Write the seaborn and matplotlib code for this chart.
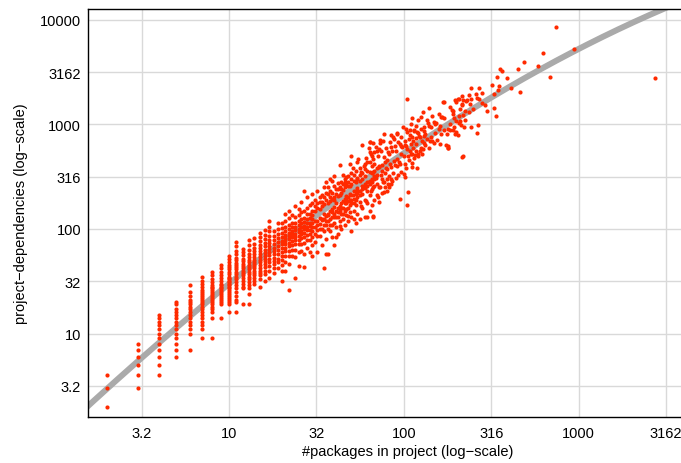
import numpy as np
import pandas as pd
import matplotlib
matplotlib.use("Agg")
import matplotlib.pyplot as plt
import seaborn as sns
from matplotlib.ticker import FixedLocator, NullLocator

# ---- data: dependencies observed for each project size -------------------
packages = [
    2, 3, 4, 5, 6, 7, 8, 9, 10, 11, 12, 13, 14, 15, 16, 17, 18, 19, 20,
    21, 22, 23, 24, 25, 26, 27, 28, 29, 30,
    31, 32, 33, 34, 35, 36, 37, 38, 39, 40, 41, 42, 43, 44, 45, 46, 47, 48,
    49, 50, 51, 52, 53, 54, 55, 56, 57, 58, 59, 60, 61, 62, 63, 64, 65, 66,
    67, 68, 69, 70, 71, 72, 73, 74, 75, 76, 77, 78, 79, 80, 81, 82, 83, 84,
    85, 86, 87, 88, 89, 90, 91, 92, 93, 94, 95, 96, 97, 98, 99,
    100, 102, 104, 105, 106, 108, 109, 111, 114, 116, 119, 120, 122, 124,
    129, 130, 133, 137, 139, 140, 142, 148, 153, 155, 158, 160, 162, 164,
    165, 168, 169, 175, 177, 178, 180, 183, 188, 191, 196, 197, 199, 200,
    203, 206, 209, 210, 213, 214, 215, 216, 218, 219, 222, 228, 230, 240,
    242, 243, 260, 262, 267, 271, 291, 319, 327, 330, 339, 341, 344, 351,
    357, 366, 390, 413, 453, 461, 484, 588, 624, 687, 746, 942, 2750,
    101, 103, 107, 110, 112, 113, 115, 117, 118, 121, 125, 127, 131, 135,
    143, 145, 150, 170, 185, 193, 225, 235, 250, 280, 300,
]

dependencies = [
    [2, 3, 4],
    [3, 4, 5, 6, 7, 8],
    [4, 5, 6, 7, 8, 9, 10, 11, 12, 13, 14, 15],
    [6, 7, 8, 9, 10, 11, 12, 13, 14, 15, 16, 17, 19, 20],
    [7, 10, 11, 12, 13, 14, 15, 16, 17, 18, 19, 20, 21, 23, 25, 29],
    [9, 11, 12, 13, 14, 15, 16, 17, 18, 19, 20, 21, 22, 23, 24, 25, 26, 28,
     30, 32, 35],
    [9, 14, 16, 17, 18, 19, 20, 21, 22, 23, 24, 25, 26, 27, 28, 29, 31, 33,
     36, 39],
    [14, 19, 20, 21, 22, 23, 24, 25, 26, 27, 28, 29, 30, 32, 34, 36, 39, 42,
     45],
    [16, 19, 20, 21, 22, 23, 24, 25, 26, 27, 28, 29, 30, 31, 32, 33, 34, 35,
     37, 39, 41, 43, 45, 48, 52, 55],
    [16, 20, 21, 23, 25, 27, 29, 31, 33, 35, 37, 39, 41, 43, 45, 47, 50, 53,
     57, 62, 68, 75],
    [19, 27, 28, 30, 32, 34, 36, 38, 40, 42, 44, 46, 49, 52, 56, 60, 64],
    [19, 24, 27, 29, 31, 33, 35, 37, 39, 41, 43, 45, 48, 51, 54, 58, 63, 70,
     78],
    [30, 32, 34, 36, 38, 40, 42, 44, 46, 48, 51, 54, 57, 61, 66, 72, 81],
    [28, 33, 36, 38, 40, 42, 45, 48, 51, 54, 57, 61, 65, 70, 76, 84, 92],
    [32, 37, 40, 43, 46, 49, 52, 55, 59, 63, 68, 74, 80, 88, 97],
    [34, 40, 44, 48, 52, 56, 60, 64, 68, 73, 79, 86, 95, 105, 119],
    [38, 42, 46, 49, 53, 57, 61, 66, 72, 78, 85, 95],
    [42, 48, 52, 58, 63, 69, 75, 82, 90, 100, 115],
    [32, 40, 45, 50, 55, 60, 65, 71, 77, 84, 92, 102, 115],
    [40, 48, 55, 61, 66, 71, 76, 82, 88, 95, 105, 120, 140],
    [26, 46, 55, 62, 68, 74, 80, 86, 92, 100, 110, 128, 150],
    [55, 63, 70, 77, 83, 89, 96, 104, 115, 135],
    [34, 54, 63, 71, 78, 84, 90, 97, 105, 115, 130, 165],
    [44, 60, 71, 79, 86, 93, 100, 108, 118, 135, 155],
    [61, 72, 81, 89, 96, 104, 113, 125, 145, 180],
    [43, 58, 73, 83, 91, 99, 107, 116, 128, 150, 232],
    [65, 78, 88, 97, 105, 114, 124, 138, 160, 200],
    [60, 78, 89, 98, 106, 115, 126, 140, 170],
    [55, 70, 84, 95, 105, 114, 124, 135, 150, 175, 215],
    [75, 90, 105, 120, 150, 165, 190],
    [60, 85, 98, 110, 118, 160, 175, 232],
    [85, 100, 112, 128, 155, 180, 200],
    [70, 100, 122, 125, 165, 180, 210],
    [42, 95, 110, 125, 140, 172, 200, 250],
    [58, 80, 110, 120, 132, 190, 220, 279],
    [58, 100, 118, 135, 140, 178, 215, 250],
    [95, 110, 125, 150, 185, 200, 230, 300],
    [83, 110, 130, 145, 155, 195, 220, 289],
    [70, 115, 130, 140, 162, 190, 200, 260, 320],
    [83, 105, 130, 150, 175, 215, 240],
    [90, 130, 145, 160, 205, 240, 275],
    [107, 120, 150, 165, 210, 250, 408],
    [100, 140, 160, 175, 220, 240, 280],
    [125, 140, 160, 185, 235, 270, 330],
    [110, 150, 175, 195, 250, 280, 300],
    [135, 155, 175, 190, 205, 265, 311],
    [134, 120, 160, 185, 200, 255, 280, 320],
    [145, 170, 190, 215, 260, 418],
    [95, 130, 175, 190, 210, 270, 300, 340, 501],
    [210, 380],
    [124, 150, 175, 195, 230, 290, 330],
    [115, 170, 190, 215, 230, 280, 360],
    [140, 200, 220, 245, 300, 310, 434],
    [230, 470],
    [125, 180, 210, 230, 290, 330, 380],
    [165, 350],
    [160, 215, 240, 260, 300, 340, 634],
    [260, 400],
    [130, 190, 245, 270, 320, 370, 420],
    [185, 480],
    [129, 175, 230, 255, 280, 360, 440],
    [280, 600],
    [150, 210, 270, 290, 350, 434, 540, 673, 683],
    [230, 520],
    [170, 240, 280, 300, 345, 400, 500],
    [129, 134, 250, 348, 466, 662],
    [190, 260, 300, 320, 360, 420, 540],
    [310, 610],
    [210, 269, 330, 380, 560],
    [200, 500],
    [180, 250, 388, 402, 581],
    [250, 662, 708],
    [330, 560],
    [220, 300, 360, 410],
    [280, 700],
    [224, 280, 484, 807],
    [250, 340, 440],
    [380, 600],
    [230, 300, 374, 460],
    [270, 540],
    [250, 323, 520],
    [420, 680],
    [300, 390, 794],
    [270, 603],
    [290, 560],
    [340, 751],
    [450, 720],
    [410, 625],
    [310, 560],
    [402, 807],
    [470, 830],
    [330, 680],
    [440],
    [193, 417, 649],
    [520, 750],
    [350, 620],
    [603],
    [936],
    [335, 501],
    [311, 634],
    [170, 849, 1730],
    [581],
    [224, 494],
    [794],
    [560, 881],
    [388, 520, 1150],
    [870],
    [508],
    [379, 849],
    [494, 1110],
    [778],
    [560, 751],
    [581, 1300],
    [778, 936],
    [634, 807],
    [1020],
    [589, 969],
    [1430],
    [697],
    [662, 1060],
    [1035],
    [713],
    [901],
    [1250],
    [649, 957],
    [813, 1170],
    [1170],
    [1630],
    [1640],
    [634],
    [813],
    [616, 900],
    [589, 593],
    [883],
    [1370],
    [883, 1250, 1350],
    [1720],
    [813],
    [849],
    [1080, 1620],
    [790, 1750],
    [1030, 1210, 1750],
    [1390],
    [1082],
    [985],
    [1880],
    [484],
    [1530, 1570],
    [1227, 1710],
    [494],
    [942],
    [1683],
    [1720],
    [1570],
    [950],
    [1750, 2240],
    [1960],
    [826, 1790],
    [985],
    [1750, 2210],
    [1540],
    [2390],
    [1940],
    [1420],
    [1200],
    [2850],
    [2130],
    [2320],
    [3360],
    [3210],
    [2750],
    [2210],
    [3360],
    [2020],
    [3920],
    [3640],
    [4770],
    [2850],
    [8510],
    [5210],
    [2750],
    [420, 700],
    [380, 620, 900],
    [460, 720],
    [520, 650, 1000],
    [430, 760],
    [600, 690],
    [480, 880],
    [560, 740],
    [650, 960],
    [520, 820],
    [600, 900, 1180],
    [520, 700],
    [660, 860],
    [720, 1100],
    [760, 950],
    [690, 1200],
    [820, 1000],
    [880, 1150],
    [1000, 1450],
    [950, 1150],
    [1100, 1350],
    [1300, 1900],
    [1400],
    [1600, 2000],
    [1350],
]

# points along the fitted trend (packages, dependencies)
trend_packages = [1.591, 10, 19.54, 100, 160.7, 316.2, 1000, 2661]
trend_deps = [2.118, 27.9, 74.3, 558, 935, 1734, 4909, 11912]

tick_values = [10 ** 0.5, 10, 10 ** 1.5, 100, 10 ** 2.5, 1000, 10 ** 3.5, 10000]
tick_labels = ["3.2", "10", "32", "100", "316", "1000", "3162", "10000"]

# ---- tidy frame ----------------------------------------------------------
rows = [(p, d) for p, ds in zip(packages, dependencies) for d in ds]
df = pd.DataFrame(rows, columns=["packages", "dependencies"])

# smooth trend in log-log space
lx = np.log10(trend_packages)
ly = np.log10(trend_deps)
coef = np.polyfit(lx, ly, 3)
grid = np.linspace(0.1, 3.9, 300)
trend = pd.DataFrame({"packages": 10 ** grid,
                      "dependencies": 10 ** np.polyval(coef, grid)})

# ---- figure --------------------------------------------------------------
sns.set_theme(style="whitegrid")
plt.rcParams["font.family"] = ["Liberation Sans", "DejaVu Sans"]

W, H = 681, 464
fig = plt.figure(figsize=(W / 100, H / 100), dpi=100)
left, right, top, bottom = 88, 728, 10.3, 417.7
ax = fig.add_axes([left / W, (H - bottom) / H, (right - left) / W,
                   (bottom - top) / H])

sns.lineplot(data=trend, x="packages", y="dependencies", ax=ax,
             color="#aaaaaa", linewidth=4.3, estimator=None, sort=False,
             zorder=2)
sns.scatterplot(data=df, x="packages", y="dependencies", ax=ax,
                color="#ff2a00", s=9, linewidth=0, zorder=3)

ax.set_xscale("log")
ax.set_yscale("log")
ax.set_xlim(10 ** 0.194, 10 ** (1 + (right - 228.5) / 175))
ax.set_ylim(10 ** 0.205, 10 ** 4.0994)

ax.xaxis.set_major_locator(FixedLocator(tick_values[:-1]))
ax.xaxis.set_ticklabels(tick_labels[:-1])
ax.yaxis.set_major_locator(FixedLocator(tick_values))
ax.yaxis.set_ticklabels(tick_labels)
ax.xaxis.set_minor_locator(NullLocator())
ax.yaxis.set_minor_locator(NullLocator())

ax.grid(True, which="major", color="#d9d9d9", linewidth=1.0)
ax.set_axisbelow(True)
for side in ("left", "top", "bottom"):
    ax.spines[side].set_color("black")
    ax.spines[side].set_linewidth(1.0)
ax.spines["right"].set_visible(False)

ax.tick_params(axis="both", length=0, labelsize=10.5, colors="black")
ax.tick_params(axis="x", pad=7)
ax.tick_params(axis="y", pad=5)

ax.set_xlabel("#packages in project (log\u2212scale)", fontsize=10.5,
              color="black")
ax.set_ylabel("project\u2212dependencies (log\u2212scale)", fontsize=10.5,
              color="black")
ax.xaxis.set_label_coords(0.5, -0.067)
ax.yaxis.set_label_coords(-0.094, 0.5)

fig.savefig("out.png", dpi=100)
